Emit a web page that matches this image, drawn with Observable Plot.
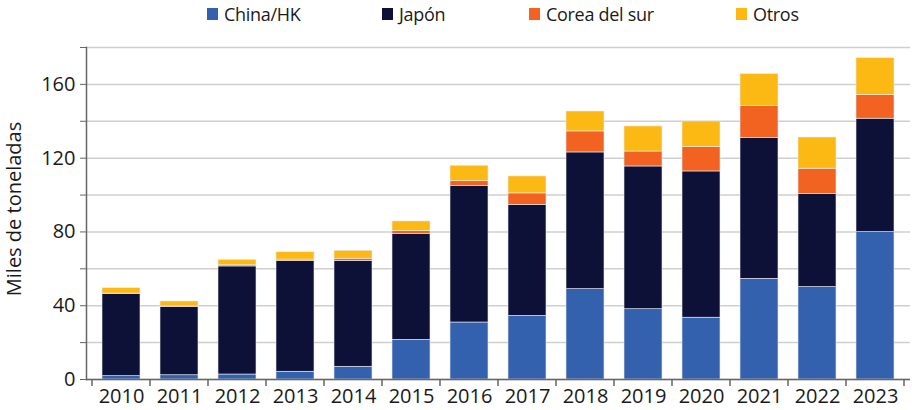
<!DOCTYPE html>
<html>
<head>
<meta charset="utf-8">
<script src="https://cdn.jsdelivr.net/npm/d3@7"></script>
<script src="https://cdn.jsdelivr.net/npm/@observablehq/plot@0.6"></script>
<style>
  body { margin: 0; background: #fff; font-family: "Open Sans", sans-serif; }
  #legend { position: relative; width: 912px; height: 30px; font-size: 18px; letter-spacing: -0.3px; color: #1a1a1a; }
  #legend .item { position: absolute; top: 2px; display: flex; align-items: center; white-space: nowrap; }
  #legend .sw { width: 11px; height: 12px; margin-right: 6px; }
  #chart svg { display: block; }
</style>
</head>
<body>
<div id="legend"></div>
<div id="chart"></div>
<script>
const years = ["2010","2011","2012","2013","2014","2015","2016","2017","2018","2019","2020","2021","2022","2023"];
const seriesNames = ["China/HK", "Japón", "Corea del sur", "Otros"];
const seriesColors = ["#3461ae", "#0d1137", "#f26322", "#fdb913"];
const chinaHK = [1.8, 2.3, 2.7, 4.2, 6.9, 21.5, 30.9, 34.5, 49.0, 38.1, 33.5, 54.6, 50.1, 79.9];
const japon   = [44.6, 37.1, 58.6, 60.1, 57.4, 57.3, 73.9, 60.2, 74.1, 77.4, 79.3, 76.4, 50.4, 61.5];
const corea   = [0.2, 0.2, 0.6, 0.7, 1.2, 1.6, 2.7, 6.2, 11.4, 8.1, 13.2, 17.4, 13.8, 12.8];
const otros   = [2.9, 2.7, 3.0, 4.0, 4.3, 5.3, 8.4, 9.2, 10.8, 13.6, 13.9, 17.2, 16.9, 20.0];
const yTicks = [0, 20, 40, 60, 80, 100, 120, 140, 160, 180];
const yTitle = "Miles de toneladas";

const seriesValues = [chinaHK, japon, corea, otros];
const data = [];
seriesNames.forEach((s, i) => years.forEach((y, j) => data.push({year: y, series: s, value: seriesValues[i][j]})));

// legend
const legendX = [207, 382, 529, 736];
const legend = document.getElementById("legend");
seriesNames.forEach((s, i) => {
  const it = document.createElement("div");
  it.className = "item";
  it.style.left = legendX[i] + "px";
  it.innerHTML = `<span class="sw" style="background:${seriesColors[i]}"></span><span>${s}</span>`;
  legend.appendChild(it);
});

const axisColor = "#666";
const chart = Plot.plot({
  width: 912,
  height: 380,
  marginTop: 17,
  marginBottom: 31,
  marginLeft: 86,
  marginRight: 2,
  style: {fontFamily: "Open Sans, sans-serif", fontSize: "20px", color: "#1a1a1a", background: "#fff"},
  x: {domain: years, paddingInner: 0.34, paddingOuter: 0.17, label: null},
  y: {domain: [0, 180], label: null},
  color: {domain: seriesNames, range: seriesColors},
  marks: [
    Plot.gridY(yTicks, {stroke: "#cfcfcf", strokeOpacity: 1, strokeWidth: 1.5}),
    Plot.barY(data, {x: "year", y: "value", fill: "series", order: seriesNames, stroke: "#e8ecf5", strokeWidth: 0.6}),
    Plot.axisY(yTicks, {tickSize: 6, tickPadding: 5, stroke: axisColor, tickFormat: d => d % 40 === 0 ? d : "", label: null, fontSize: 20}),
    Plot.axisX({tickSize: 0, tickPadding: 9, label: null, fontSize: 20}),
    Plot.frame({anchor: "left", stroke: axisColor, strokeWidth: 1.5}),
    Plot.ruleY([0], {stroke: axisColor, strokeWidth: 1.5})
  ]
});
document.getElementById("chart").appendChild(chart);

// band-boundary tick marks on x axis, derived from the x scale
const xs = chart.scale("x");
const ys = chart.scale("y");
const step = xs.step;
const bounds = years.map(y => xs.apply(y) - (step - xs.bandwidth) / 2);
bounds.push(bounds[bounds.length - 1] + step);
const svg = d3.select(chart);
const y0 = ys.apply(0);
svg.append("g").attr("stroke", axisColor).attr("stroke-width", 1.5)
  .selectAll("line").data(bounds).join("line")
  .attr("x1", d => d).attr("x2", d => d).attr("y1", y0).attr("y2", y0 + 7);
// y axis title
svg.append("text")
  .attr("transform", `translate(16,${(ys.apply(0) + ys.apply(180)) / 2 - 4}) rotate(-90)`)
  .attr("text-anchor", "middle").attr("dominant-baseline", "middle")
  .attr("font-size", 20).attr("fill", "#1a1a1a").text(yTitle);
</script>
</body>
</html>
